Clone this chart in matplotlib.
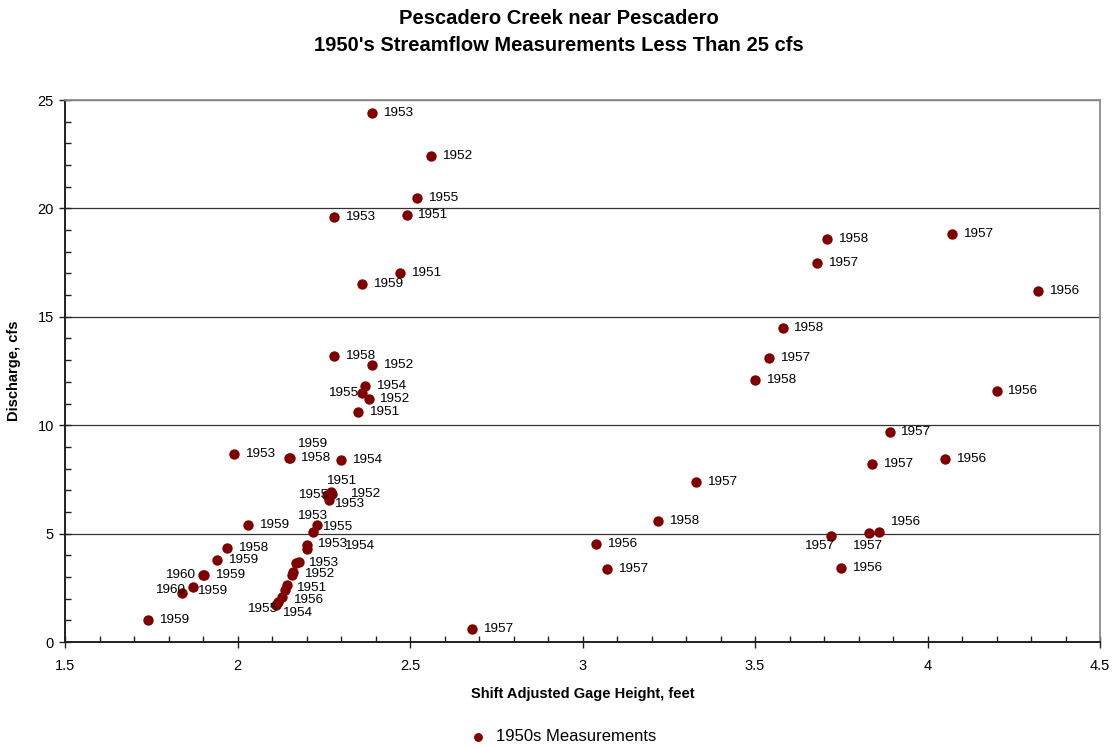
"""
Pescadero Creek near Pescadero -- 1950's streamflow measurements below 25 cfs.
"""

import matplotlib.pyplot as plt
from matplotlib.ticker import MultipleLocator

plt.rcParams["font.family"] = ["Liberation Sans", "DejaVu Sans"]

# ---------------------------------------------------------------------------
# Data: shift adjusted gage height (ft), discharge (cfs), measurement year
# ---------------------------------------------------------------------------

gage_height = [
    2.39, 2.56, 2.52, 2.28, 2.49, 2.47, 2.36,
    3.71, 4.07, 3.68, 4.32, 3.58, 3.54, 3.50, 4.20,
    2.28, 2.39, 2.37, 2.36, 2.38, 2.35,
    3.89, 3.84, 4.05, 1.99, 2.15, 2.152, 2.30, 3.33,
    2.27, 2.275, 2.26, 2.265,
    2.03, 2.229, 2.22, 3.22, 2.20, 2.20, 3.04,
    3.72, 3.83, 3.86, 3.07, 3.75,
    1.97, 1.94, 1.90, 1.902, 1.87, 1.84, 1.74, 2.68,
    2.179, 2.170, 2.162, 2.157, 2.142, 2.138, 2.128, 2.118, 2.113,
]

discharge = [
    24.4, 22.4, 20.5, 19.6, 19.7, 17.0, 16.5,
    18.6, 18.8, 17.5, 16.2, 14.5, 13.1, 12.1, 11.6,
    13.2, 12.8, 11.8, 11.5, 11.2, 10.6,
    9.7, 8.2, 8.45, 8.65, 8.47, 8.5, 8.4, 7.4,
    6.9, 6.85, 6.78, 6.55,
    5.4, 5.4, 5.09, 5.6, 4.47, 4.28, 4.5,
    4.9, 5.04, 5.06, 3.35, 3.4,
    4.35, 3.78, 3.1, 3.09, 2.52, 2.25, 1.0, 0.6,
    3.68, 3.63, 3.24, 3.09, 2.63, 2.40, 2.09, 1.86, 1.71,
]

year = [
    1953, 1952, 1955, 1953, 1951, 1951, 1959,
    1958, 1957, 1957, 1956, 1958, 1957, 1958, 1956,
    1958, 1952, 1954, 1955, 1952, 1951,
    1957, 1957, 1956, 1953, 1958, 1959, 1954, 1957,
    1951, 1952, 1955, 1953,
    1959, 1955, 1953, 1958, 1953, 1954, 1956,
    1957, 1957, 1956, 1957, 1956,
    1958, 1959, 1960, 1959, 1959, 1960, 1959, 1957,
    1953, 1953, 1952, 1952, 1951, 1951, 1956, 1954, 1955,
]

# label centre offset from the dot, in pixels (None = label hidden under others)
R = (26, 0)
label_offset = [
    R, R, R, R, R, R, R,
    R, R, R, R, R, R, R, R,
    R, R, R, (-19, 0), R, R,
    R, R, R, R, R, (22, 14), R, R,
    (10, 11), (33, 0), (-14, 0), (20, -4),
    R, (21, -2), (-1, 16), R, (26, 1), (53, 3), R,
    (-12, -10), (-2, -13), (26, 10), R, R,
    R, R, (-23, 0), (26, 0), (19, -4), (-12, 3), R, R,
    (24, -1), None, (26, -2), None, (25, -3), None, (26, -3), (19, -11), (-14, -4),
]

DOT_COLOR = "#800000"

# ---------------------------------------------------------------------------
# Figure
# ---------------------------------------------------------------------------

fig = plt.figure(figsize=(11.17, 7.48), dpi=100)
ax = fig.add_axes([0.0582, 0.1417, 0.9266, 0.7246])

ax.scatter(gage_height, discharge, s=56, color=DOT_COLOR, zorder=3,
           label="1950s Measurements", linewidths=0)

for x, y, yr, off in zip(gage_height, discharge, year, label_offset):
    if off is None:
        continue
    ax.annotate(str(yr), (x, y), xytext=off, textcoords="offset pixels",
                ha="center", va="center", fontsize=9.7, color="black", zorder=4)

ax.set_xlim(1.5, 4.5)
ax.set_ylim(0, 25)
ax.xaxis.set_major_locator(MultipleLocator(0.5))
ax.xaxis.set_minor_locator(MultipleLocator(0.1))
ax.yaxis.set_major_locator(MultipleLocator(5))
ax.yaxis.set_minor_locator(MultipleLocator(1))
ax.set_xticks([1.5, 2, 2.5, 3, 3.5, 4, 4.5])
ax.set_xticklabels(["1.5", "2", "2.5", "3", "3.5", "4", "4.5"])

ax.grid(axis="y", which="major", color="#333333", linewidth=0.9)
ax.set_axisbelow(True)

for side in ["top", "right"]:
    ax.spines[side].set_color("#8c8c8c")
    ax.spines[side].set_linewidth(1.3)
for side in ["left", "bottom"]:
    ax.spines[side].set_color("#202020")
    ax.spines[side].set_linewidth(1.4)

ax.tick_params(axis="both", which="major", direction="inout", length=9,
               width=1, labelsize=10.5, color="#202020")
ax.tick_params(axis="both", which="minor", direction="in", length=4, width=1,
               color="#202020")
ax.tick_params(axis="x", which="major", pad=8)

ax.set_xlabel("Shift Adjusted Gage Height, feet", fontsize=10.5,
              fontweight="bold", labelpad=10)
ax.set_ylabel("Discharge, cfs", fontsize=10.5, fontweight="bold", labelpad=12)

fig.suptitle("Pescadero Creek near Pescadero\n1950's Streamflow Measurements Less Than 25 cfs",
             fontsize=14.5, fontweight="bold", y=0.988, linespacing=1.55)

fig.legend(loc="lower center", bbox_to_anchor=(0.5, -0.015), frameon=False,
           fontsize=12, handletextpad=0.1, markerscale=0.85)

fig.savefig("out.png", dpi=100)
